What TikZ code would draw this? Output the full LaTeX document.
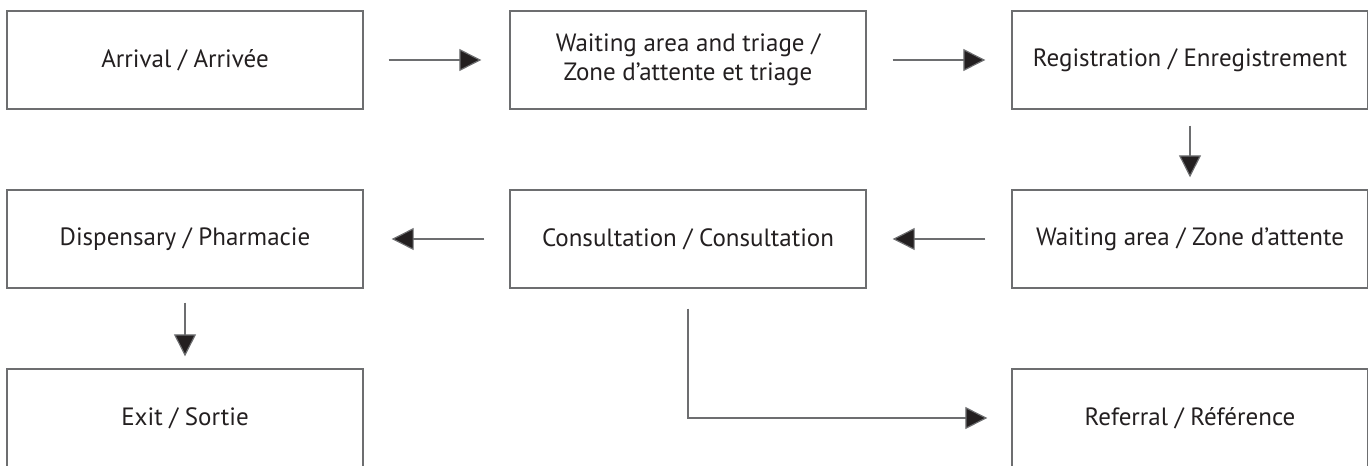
\documentclass[tikz,border=0pt]{standalone}
\usepackage{fontspec}
\setmainfont{PT Sans}
\usepackage{xcolor}
\usetikzlibrary{arrows.meta}

\definecolor{inkgray}{HTML}{231F20}
\definecolor{linegray}{HTML}{6D6E70}

\tikzset{
    stage/.style={draw=linegray, line width=0.7pt, minimum width=178pt, minimum height=49pt,
        inner sep=0pt, align=center, text=inkgray, font=\fontsize{12.5}{14.5}\selectfont},
    flow/.style={draw=linegray, line width=0.6pt, -{Triangle[length=11pt,width=11pt,fill=inkgray]}},
}

\begin{document}
\begin{tikzpicture}[x=0.5pt, y=-0.5pt]
    \useasboundingbox (0, 0) rectangle (1368, 465);
    % first row
    \node[stage] (arrival) at (185, 60) {Arrival / Arrivée};
    \node[stage] (triage) at (688, 60) {Waiting area and triage /\\Zone d’attente et triage};
    \node[stage] (registration) at (1190, 60) {Registration / Enregistrement};
    % second row
    \node[stage] (dispensary) at (185, 239) {Dispensary / Pharmacie};
    \node[stage] (consultation) at (688, 239) {Consultation / Consultation};
    \node[stage] (waiting) at (1190, 239) {Waiting area / Zone d’attente};
    % third row
    \node[stage] (exit) at (185, 418) {Exit / Sortie};
    \node[stage] (referral) at (1190, 418) {Referral / Référence};

    \draw [flow, shorten <=12.5pt, shorten >=14pt] (arrival) -- (triage);
    \draw [flow, shorten <=13pt, shorten >=13pt] (triage) -- (registration);
    \draw [flow, shorten <=8pt, shorten >=6pt] (registration) -- (waiting);
    \draw [flow, shorten <=13pt, shorten >=13pt] (waiting) -- (consultation);
    \draw [flow, shorten <=12.5pt, shorten >=14pt] (consultation) -- (dispensary);
    \draw [flow, shorten <=7pt, shorten >=6pt] (dispensary) -- (exit);
    \draw [flow, shorten <=10pt, shorten >=12pt] (consultation) |- (referral);
\end{tikzpicture}
\end{document}
